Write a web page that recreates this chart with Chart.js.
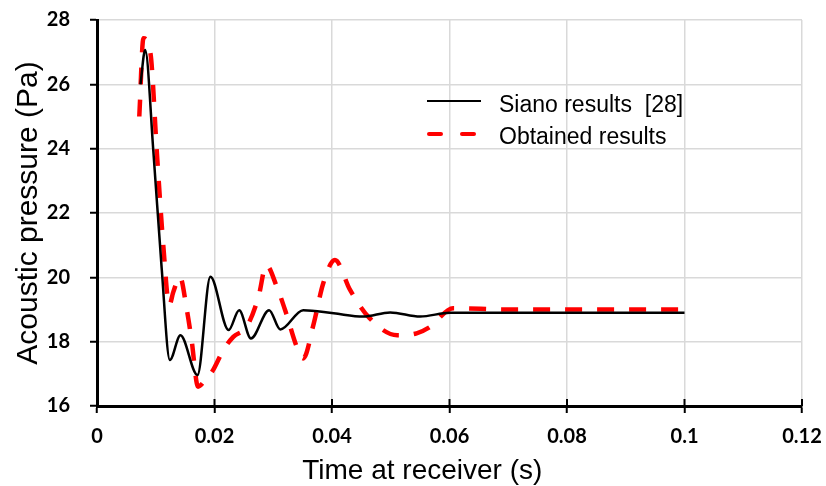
<!DOCTYPE html>
<html>
<head>
<meta charset="utf-8">
<script src="https://cdn.jsdelivr.net/npm/chart.js@4.4.1/dist/chart.umd.min.js"></script>
<style>
  html, body { margin: 0; padding: 0; background: #fff; }
  #wrap { position: relative; width: 826px; height: 486px; }
  #legend { position: absolute; left: 427px; top: 86px; font-family: "Liberation Sans", Arial, sans-serif; font-size: 23px; color: #000; }
  .row { position: relative; height: 32px; white-space: pre; }
  .row span { position: absolute; left: 72px; top: 5px; line-height: 26px; }
  .solid { position: absolute; left: 0; top: 14px; width: 54px; border-top: 2.5px solid #000; }
  .dash { position: absolute; top: 14px; width: 16px; height: 4px; background: #ff0000; border-radius: 2px; }
</style>
</head>
<body>
<div id="wrap">
  <canvas id="myChart" width="826" height="486"></canvas>
  <div id="legend">
    <div class="row"><div class="solid"></div><span>Siano results  [28]</span></div>
    <div class="row"><div class="dash" style="left:0"></div><div class="dash" style="left:33px"></div><span>Obtained results</span></div>
  </div>
</div>
<script>
// Datos
const siano_x = [0.0074, 0.0082, 0.0096, 0.0110, 0.0124, 0.0142, 0.0171, 0.0193, 0.0224, 0.0242, 0.0262, 0.0293, 0.0312, 0.0351, 0.0403, 0.0453, 0.0499, 0.0550, 0.0601, 0.07, 0.08, 0.09, 0.1];
const siano_y = [26.0, 27.07, 23.9, 20.3, 17.43, 18.2, 16.96, 20.02, 18.36, 18.98, 18.1, 18.98, 18.38, 18.98, 18.88, 18.78, 18.91, 18.78, 18.9, 18.9, 18.9, 18.9, 18.9];

const obt_x = [0.0072, 0.0079, 0.0091, 0.0102, 0.0113, 0.0123, 0.0130, 0.0141, 0.0153, 0.0161, 0.0172, 0.0184, 0.0197, 0.0215, 0.0232, 0.0255, 0.0275, 0.0288, 0.0306, 0.0322, 0.0340, 0.0351, 0.0369, 0.0385, 0.0405, 0.0431, 0.0464, 0.0511, 0.0544, 0.0567, 0.0606, 0.07, 0.08, 0.09, 0.1];
const obt_y = [25.0, 27.43, 26.96, 23.85, 20.95, 19.14, 19.55, 20.02, 18.98, 18.05, 16.6, 16.8, 17.1, 17.74, 18.15, 18.47, 19.4, 20.38, 19.71, 18.88, 17.84, 17.48, 18.57, 19.81, 20.54, 19.6, 18.73, 18.2, 18.26, 18.46, 19.04, 19, 19, 19, 19];

const x_ticks = [0, 0.02, 0.04, 0.06, 0.08, 0.1, 0.12];
const y_ticks = [16, 18, 20, 22, 24, 26, 28];

const toPoints = (xs, ys) => xs.map((x, i) => ({x: x, y: ys[i]}));

const tickFont = {family: "Lato, 'Open Sans', sans-serif", size: 20, weight: "bold"};

// marcas del eje x que cruzan la linea (hacia arriba)
const crossTicks = {
	id: "crossTicks",
	afterDraw(chart) {
		const sx = chart.scales.x;
		const c = chart.ctx;
		c.save();
		c.strokeStyle = "#000";
		c.lineWidth = 2;
		x_ticks.forEach(v => {
			const px = sx.getPixelForValue(v);
			c.beginPath();
			c.moveTo(px, sx.top);
			c.lineTo(px, sx.top - 7);
			c.stroke();
		});
		c.restore();
	}
};

const ctx = document.getElementById("myChart").getContext("2d");

let myChart = new Chart(ctx, {
	type: "line",
	data: {
		datasets: [
			{
				label: "Siano results [28]",
				data: toPoints(siano_x, siano_y),
				borderColor: "#000000",
				borderWidth: 2.5,
				pointRadius: 0,
				cubicInterpolationMode: "monotone",
			},
			{
				label: "Obtained results",
				data: toPoints(obt_x, obt_y),
				borderColor: "#ff0000",
				borderWidth: 4.5,
				borderDash: [17, 15],
				pointRadius: 0,
				cubicInterpolationMode: "monotone",
			}
		],
	},
	options: {
		responsive: false,
		animation: false,
		devicePixelRatio: 1,
		layout: { padding: { top: 20, right: 24, left: 0, bottom: 0 } },
		plugins: { legend: { display: false }, tooltip: { enabled: false } },
		scales: {
			x: {
				type: "linear",
				min: 0,
				max: 0.12,
				afterFit: (s) => { s.height = 80; s.paddingLeft = 0; s.paddingRight = 0; },
				afterBuildTicks: (s) => { s.ticks = x_ticks.map(v => ({value: v})); },
				ticks: { color: "#000", font: tickFont, padding: 12, maxRotation: 0, autoSkip: false, callback: (v) => String(+v.toFixed(4)) },
				grid: { color: "#d9d9d9", lineWidth: 1.5, tickColor: "#000", tickLength: 7, tickWidth: 2 },
				border: { color: "#000", width: 3 },
				title: { display: true, text: "Time at receiver (s)       ", color: "#000", font: {family: "'Liberation Sans', Arial, sans-serif", size: 28, lineHeight: 1}, padding: { top: 0, bottom: 1 } },
			},
			y: {
				min: 16,
				max: 28,
				afterFit: (s) => { s.width = 97; s.paddingTop = 0; s.paddingBottom = 0; },
				afterBuildTicks: (s) => { s.ticks = y_ticks.map(v => ({value: v})); },
				ticks: { color: "#000", font: tickFont, padding: 20 },
				grid: { color: "#d9d9d9", lineWidth: 1.5, tickColor: "#000", tickLength: 7, tickWidth: 2 },
				border: { color: "#000", width: 3 },
				title: { display: true, text: "Acoustic pressure (Pa)", color: "#000", font: {family: "'Liberation Sans', Arial, sans-serif", size: 30, lineHeight: 1}, padding: { top: 14, bottom: 0 } },
			},
		},
	},
	plugins: [crossTicks],
});
</script>
</body>
</html>
